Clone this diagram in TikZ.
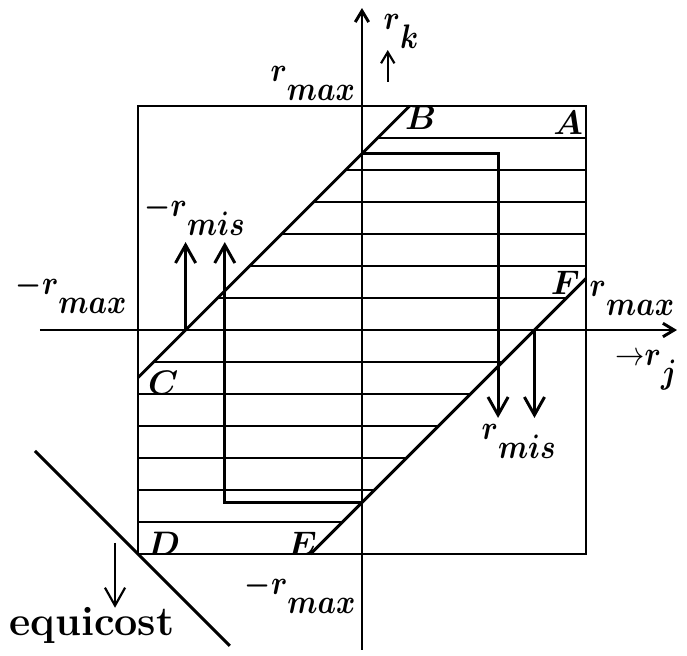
\documentclass[tikz,border=0pt]{standalone}
\usepackage{amsmath,bm,graphicx}
\usetikzlibrary{arrows.meta}

\tikzset{
  big/.style={-{Straight Barb[length=3.2mm,width=3.6mm]}},
  small/.style={-{Straight Barb[length=2mm,width=2.4mm]}},
  lbl/.style={inner sep=0pt,font=\fontsize{17}{19}\selectfont},
}
\newcommand{\rsub}[2]{\scalebox{0.86}[1]{\ensuremath{#1\bm{r}\raisebox{-0.55em}{$\bm{#2}$}}}}

\begin{document}
\begin{tikzpicture}[line width=1.5pt]
    \useasboundingbox (-6.464,-5.804) rectangle (5.804,5.893);

    % Kotak dan sumbu
    \draw[line width=1.3pt] (-4,-4) rectangle (4,4);
    \draw[small] (-5.75,0) -- (5.625,0);
    \draw[small] (0,-5.71) -- (0,5.75);

    % Arsiran
    \foreach \k in {-6,...,-1,1,2,...,6} {
        \pgfmathsetmacro{\y}{\k*4/7}
        \pgfmathsetmacro{\xa}{max(-4,\y-3.15)}
        \pgfmathsetmacro{\xb}{min(4,\y+3.08)}
        \draw (\xa,\y) -- (\xb,\y);
    }

    % Garis miring
    \draw (-4,-0.85) -- (0.85,4);
    \draw (-0.92,-4) -- (4,0.92);

    % Kotak dalam dan panah
    \draw[big] (0,3.15) -- (2.43,3.15) -- (2.43,-1.57);
    \draw[big] (0,-3.08) -- (-2.45,-3.08) -- (-2.45,1.57);
    \draw[big] (-3.15,0) -- (-3.15,1.57);
    \draw[big] (3.08,0) -- (3.08,-1.57);
    \draw[small,line width=1.1pt] (0.46,4.43) -- (0.46,5.0);

    % Equicost
    \draw (-5.84,-2.16) -- (-2.36,-5.64);
    \draw[big,line width=1.1pt] (-4.41,-3.80) -- (-4.41,-4.96);

    % Label titik
    \node[lbl,font=\fontsize{19}{21}\selectfont] (A) at (3.68,3.70) {$\bm{A}$};
    \node[lbl,font=\fontsize{19}{21}\selectfont] (B) at (1.05,3.79) {$\bm{B}$};
    \node[lbl,font=\fontsize{19}{21}\selectfont] (C) at (-3.55,-0.95) {$\bm{C}$};
    \node[lbl,font=\fontsize{19}{21}\selectfont] (D) at (-3.54,-3.82) {$\bm{D}$};
    \node[lbl,font=\fontsize{19}{21}\selectfont] (E) at (-1.07,-3.82) {$\bm{E}$};
    \node[lbl,font=\fontsize{19}{21}\selectfont] (F) at (3.63,0.84) {$\bm{F}$};

    % Label sumbu
    \node[lbl,anchor=base east] (rmaxT) at (-0.1,4.43) {\rsub{}{max}};
    \node[lbl,anchor=base east] (rmaxL) at (-4.18,0.63) {\rsub{\bm{-}}{max}};
    \node[lbl,anchor=base west] (rmaxR) at (4.04,0.59) {\rsub{}{max}};
    \node[lbl,anchor=base east] (rmaxB) at (-0.09,-4.73) {\rsub{\bm{-}}{max}};
    \node[lbl,anchor=base west] (rmisL) at (-3.91,2.02) {\rsub{\bm{-}}{mis}};
    \node[lbl,anchor=base west] (rmisR) at (2.11,-1.96) {\rsub{}{mis}};
    \node[lbl,anchor=base west] (rk) at (0.36,5.36) {\rsub{}{k}};
    \node[lbl,anchor=base west] (rj) at (4.50,-0.625) {\rsub{{\rightarrow}}{j}};
    \node[anchor=base west,inner sep=0pt,font=\fontsize{21}{25}\selectfont\bfseries] (eq) at (-6.32,-5.45) {equicost};
\end{tikzpicture}
\end{document}
